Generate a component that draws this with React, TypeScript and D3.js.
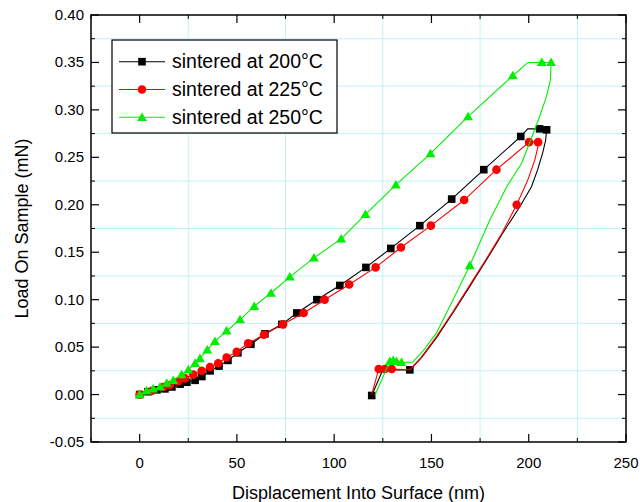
import React from "react";
import * as d3 from "d3";

type P = [number, number];

// 200 °C
const s200Loading: P[] = [
  [0, 0], [4.3, 0.003], [8.9, 0.005], [13.0, 0.006], [16.6, 0.008], [20.8, 0.011],
  [24.3, 0.013], [28.5, 0.015], [32.0, 0.019], [36.2, 0.025], [40.8, 0.030],
  [45.4, 0.036], [50.5, 0.044], [57.2, 0.053], [64.4, 0.064], [73.1, 0.074],
  [80.8, 0.086], [91.1, 0.100], [102.9, 0.115], [116.3, 0.134], [129.1, 0.154],
  [144.0, 0.178], [160.4, 0.206], [176.9, 0.237], [195.9, 0.272],
];
const s200Hold: P[] = [[199.5, 0.280], [205.6, 0.280], [209.2, 0.279]];
const s200HoldMarkers: P[] = [[205.6, 0.280], [209.2, 0.279]];
const s200Unloading: P[] = [
  [208.7, 0.268], [207.2, 0.255], [204.6, 0.237], [201.4, 0.219], [195.4, 0.198],
  [186.6, 0.170], [178.3, 0.142], [169.7, 0.114], [161.0, 0.086], [152.6, 0.060],
  [144.9, 0.039], [138.9, 0.026], [125.0, 0.026], [119.3, -0.001],
];
const s200UnloadMarkers: P[] = [[138.9, 0.026], [119.3, -0.001]];

// 225 °C
const s225Loading: P[] = [
  [0, 0], [6.4, 0.004], [12.2, 0.008], [15.6, 0.010], [19.9, 0.014], [23.3, 0.017],
  [27.6, 0.021], [31.9, 0.025], [36.2, 0.029], [40.4, 0.033], [44.7, 0.039],
  [49.9, 0.045], [55.8, 0.054], [63.9, 0.063], [73.7, 0.074], [84.3, 0.086],
  [95.1, 0.100], [107.7, 0.116], [121.3, 0.134], [134.3, 0.155], [149.7, 0.178],
  [166.8, 0.205], [183.4, 0.237], [200.2, 0.266], [204.8, 0.266],
];
const s225Unloading: P[] = [
  [204.6, 0.260], [203.1, 0.247], [199.5, 0.226], [193.8, 0.200], [186.2, 0.170],
  [177.9, 0.142], [169.3, 0.114], [160.6, 0.086], [152.2, 0.060], [144.6, 0.039],
  [138.9, 0.026], [129.6, 0.027], [126.0, 0.027], [122.9, 0.027], [119.3, 0.000],
];
const s225UnloadMarkers: P[] = [[193.8, 0.200], [129.6, 0.027], [126.0, 0.027], [122.9, 0.027]];

// 250 °C
const s250Loading: P[] = [
  [0, 0], [3.6, 0.004], [7.0, 0.006], [10.5, 0.008], [13.9, 0.012], [17.3, 0.015],
  [21.6, 0.021], [25.0, 0.026], [28.5, 0.033], [31.0, 0.038], [34.8, 0.047],
  [38.7, 0.056], [44.7, 0.067], [51.6, 0.079], [58.9, 0.093], [67.5, 0.107],
  [77.2, 0.124], [89.6, 0.144], [103.6, 0.164], [116.1, 0.190], [131.7, 0.221],
  [149.5, 0.254], [168.8, 0.293], [191.8, 0.336],
];
const s250Hold: P[] = [[199.6, 0.350], [206.7, 0.350], [211.5, 0.350]];
const s250HoldMarkers: P[] = [[206.7, 0.350], [211.5, 0.350]];
const s250Unloading: P[] = [
  [211.1, 0.331], [209.1, 0.314], [205.6, 0.293], [201.0, 0.268], [196.4, 0.244],
  [188.7, 0.219], [180.0, 0.184], [169.7, 0.136], [161.1, 0.100], [152.6, 0.065],
  [146.1, 0.047], [140.3, 0.034], [134.6, 0.034], [132.0, 0.035], [130.3, 0.036],
  [128.6, 0.035], [120.9, -0.001],
];
const s250UnloadMarkers: P[] = [[169.7, 0.136], [134.6, 0.034], [132.0, 0.035], [130.3, 0.036], [128.6, 0.035]];

const legendLabels = ["sintered at 200°C", "sintered at 225°C", "sintered at 250°C"];
const xTicks = [0, 50, 100, 150, 200, 250];
const xMinor = [-25, 25, 75, 125, 175, 225];
const yTicks = [-0.05, 0, 0.05, 0.1, 0.15, 0.2, 0.25, 0.3, 0.35, 0.4];
const yMinor = [-0.025, 0.025, 0.075, 0.125, 0.175, 0.225, 0.275, 0.325, 0.375];

const W = 640, H = 502;
const L = 91, R = 626, T = 15, B = 442;
const FONT = "'Liberation Sans', Arial, sans-serif";
const GRID = "#bff4f6";

const x = d3.scaleLinear().domain([-25, 250]).range([L, R]);
const y = d3.scaleLinear().domain([-0.05, 0.4]).range([B, T]);
const line = d3.line<P>().x((d) => x(d[0])).y((d) => y(d[1]));

function Marker({ kind, cx, cy, color }: { kind: string; cx: number; cy: number; color: string }) {
  if (kind === "square") return <rect x={cx - 3.8} y={cy - 3.8} width={7.6} height={7.6} fill={color} />;
  if (kind === "circle") return <circle cx={cx} cy={cy} r={4.3} fill={color} />;
  const tri = d3.symbol().type(d3.symbolTriangle).size(42)();
  return <path d={tri || ""} transform={`translate(${cx},${cy + 0.8})`} fill={color} />;
}

const series = [
  { color: "#000000", kind: "square", path: [...s200Loading, ...s200Hold, ...s200Unloading], marks: [...s200Loading, ...s200HoldMarkers, ...s200UnloadMarkers] },
  { color: "#ff0000", kind: "circle", path: [...s225Loading, ...s225Unloading], marks: [...s225Loading, ...s225UnloadMarkers] },
  { color: "#00ee00", kind: "triangle", path: [...s250Loading, ...s250Hold, ...s250Unloading], marks: [...s250Loading, ...s250HoldMarkers, ...s250UnloadMarkers] },
];

export default function App() {
  return (
    <svg width={W} height={H} style={{ position: "absolute", left: 0, top: 0, background: "#fff" }} fontFamily={FONT}>
      <rect x={0} y={0} width={W} height={H} fill="#fff" />
      {xMinor.filter((v) => v > -25).map((v) => (
        <line key={"gx" + v} x1={x(v)} x2={x(v)} y1={T} y2={B} stroke={GRID} strokeWidth={1} />
      ))}
      {yMinor.map((v) => (
        <line key={"gy" + v} x1={L} x2={R} y1={y(v)} y2={y(v)} stroke={GRID} strokeWidth={1} />
      ))}
      {series.map((s, i) => (
        <g key={i}>
          <path d={line(s.path) || ""} fill="none" stroke={s.color} strokeWidth={1.1} />
          {s.marks.map((p, j) => (
            <Marker key={j} kind={s.kind} cx={x(p[0])} cy={y(p[1])} color={s.color} />
          ))}
        </g>
      ))}
      <rect x={L} y={T} width={R - L} height={B - T} fill="none" stroke="#000" strokeWidth={1.5} />
      {xTicks.map((v) => (
        <g key={"xt" + v}>
          <line x1={x(v)} x2={x(v)} y1={B} y2={B - 8} stroke="#000" strokeWidth={1.2} />
          <line x1={x(v)} x2={x(v)} y1={T} y2={T + 8} stroke="#000" strokeWidth={1.2} />
          <text x={x(v)} y={468} textAnchor="middle" fontSize={15}>{v}</text>
        </g>
      ))}
      {xMinor.map((v) => (
        <g key={"xm" + v}>
          <line x1={x(v)} x2={x(v)} y1={B} y2={B - 4} stroke="#000" strokeWidth={1} />
          <line x1={x(v)} x2={x(v)} y1={T} y2={T + 4} stroke="#000" strokeWidth={1} />
        </g>
      ))}
      {yTicks.map((v) => (
        <g key={"yt" + v}>
          <line x1={L} x2={L + 8} y1={y(v)} y2={y(v)} stroke="#000" strokeWidth={1.2} />
          <line x1={R} x2={R - 8} y1={y(v)} y2={y(v)} stroke="#000" strokeWidth={1.2} />
          <text x={84} y={y(v) + 5} textAnchor="end" fontSize={15}>{d3.format(".2f")(v).replace("−", "-")}</text>
        </g>
      ))}
      {yMinor.map((v) => (
        <g key={"ym" + v}>
          <line x1={L} x2={L + 4} y1={y(v)} y2={y(v)} stroke="#000" strokeWidth={1} />
          <line x1={R} x2={R - 4} y1={y(v)} y2={y(v)} stroke="#000" strokeWidth={1} />
        </g>
      ))}
      <text x={(L + R) / 2} y={499} textAnchor="middle" fontSize={18}>Displacement Into Surface (nm)</text>
      <text transform={`translate(28,${(T + B) / 2}) rotate(-90)`} textAnchor="middle" fontSize={18}>Load On Sample (mN)</text>
      <rect x={112} y={40} width={225} height={93} fill="#fff" stroke="#000" strokeWidth={1.2} />
      {legendLabels.map((lab, i) => {
        const ly = 61.7 + i * 27.8;
        const s = series[i];
        return (
          <g key={lab}>
            <line x1={119} x2={165} y1={ly} y2={ly} stroke={s.color} strokeWidth={1.1} />
            <Marker kind={s.kind} cx={142} cy={ly} color={s.color} />
            <text x={172} y={ly + 6.5} fontSize={19.5}>{lab}</text>
          </g>
        );
      })}
    </svg>
  );
}
